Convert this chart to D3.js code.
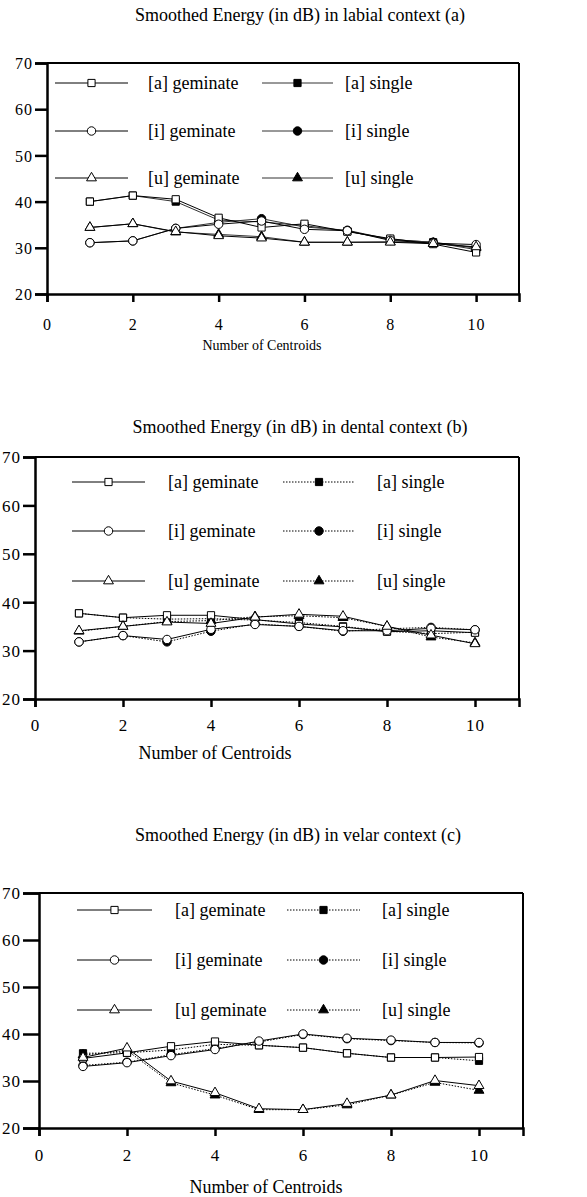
<!DOCTYPE html>
<html>
<head>
<meta charset="utf-8">
<script src="https://cdn.jsdelivr.net/npm/d3@7"></script>
<style>
  html, body { margin: 0; padding: 0; background: #fff; }
  svg { display: block; }
  text { font-family: "Liberation Serif", "Times New Roman", serif; fill: #000; }
</style>
</head>
<body>
<svg id="chart" width="587" height="1197"></svg>
<script>
// ---------------- data ----------------
const centroids = [1, 2, 3, 4, 5, 6, 7, 8, 9, 10];
const xTickValues = [0, 2, 4, 6, 8, 10];
const yTickValues = [20, 30, 40, 50, 60, 70];
const xAxisLabel = "Number of Centroids";
const panelTitles = [
  "Smoothed Energy (in dB) in labial context (a)",
  "Smoothed Energy (in dB) in dental context (b)",
  "Smoothed Energy (in dB) in velar context (c)"
];
const seriesNames = ["[a] geminate", "[a] single", "[i] geminate", "[i] single", "[u] geminate", "[u] single"];

// labial (a)
const labialAGem = [40.0, 41.3, 40.5, 36.5, 34.4, 35.2, 33.5, 32.0, 30.8, 29.0];
const labialASin = [40.0, 41.3, 40.0, 36.0, 35.6, 34.8, 33.6, 31.8, 31.2, 29.6];
const labialIGem = [31.1, 31.5, 34.2, 35.1, 35.8, 34.0, 33.7, 31.6, 31.0, 30.7];
const labialISin = [31.1, 31.5, 34.2, 35.5, 36.3, 34.5, 33.8, 31.8, 31.2, 30.0];
const labialUGem = [34.4, 35.2, 33.5, 32.6, 32.1, 31.2, 31.2, 31.2, 30.9, 30.2];
const labialUSin = [34.4, 35.2, 33.4, 32.9, 32.4, 31.2, 31.2, 31.3, 31.0, 30.0];

// dental (b)
const dentalAGem = [37.7, 36.8, 37.3, 37.3, 36.4, 35.5, 34.9, 33.9, 34.1, 33.7];
const dentalASin = [37.7, 36.8, 36.5, 36.6, 36.3, 35.8, 35.0, 34.0, 33.5, 33.8];
const dentalIGem = [31.8, 33.1, 32.3, 34.4, 35.4, 35.0, 34.1, 34.1, 34.6, 34.3];
const dentalISin = [31.8, 33.1, 31.8, 34.0, 35.5, 35.0, 34.0, 34.5, 34.8, 34.3];
const dentalUGem = [34.1, 35.0, 35.9, 35.6, 36.9, 37.5, 37.1, 35.0, 33.2, 31.4];
const dentalUSin = [34.0, 35.0, 36.0, 36.2, 37.0, 37.2, 36.8, 35.0, 32.8, 31.6];

// velar (c)
const velarAGem = [34.8, 36.0, 37.4, 38.4, 37.6, 37.1, 35.9, 35.0, 35.0, 35.1];
const velarASin = [35.9, 36.0, 36.6, 37.8, 37.6, 37.1, 35.9, 35.0, 35.0, 34.3];
const velarIGem = [33.1, 33.9, 35.4, 36.7, 38.5, 40.0, 39.1, 38.7, 38.2, 38.2];
const velarISin = [33.3, 34.0, 35.6, 36.9, 38.3, 39.9, 39.0, 38.6, 38.2, 38.1];
const velarUGem = [35.0, 37.0, 30.0, 27.5, 24.1, 23.9, 25.2, 27.0, 30.1, 29.0];
const velarUSin = [35.5, 36.5, 29.6, 27.0, 23.9, 23.9, 24.9, 27.0, 29.7, 28.0];

// ---------------- layout ----------------
const panels = [
  { title: panelTitles[0], series: [labialAGem, labialASin, labialIGem, labialISin, labialUGem, labialUSin],
    left: 47, right: 519, top: 63, bottom: 294, titleX: 300, titleY: 21, singleDash: null,
    yTick: 12, yPad: 2, tickFont: 16, xlabFont: 14, xlabX: 262, xlabY: 350, tickLabY: 330,
    legLine1: [55, 128], legText1: 148, legLine2: [262, 333], legText2: 345, legRows: [83, 131, 178], legFont: 18 },
  { title: panelTitles[1], series: [dentalAGem, dentalASin, dentalIGem, dentalISin, dentalUGem, dentalUSin],
    left: 35, right: 519, top: 457, bottom: 699, titleX: 300, titleY: 433, singleDash: "1.5,1.5",
    yTick: 12, yPad: 2, tickFont: 17, xlabFont: 18, xlabX: 215, xlabY: 759, tickLabY: 731,
    legLine1: [72, 145], legText1: 168, legLine2: [283, 355], legText2: 377, legRows: [482, 531, 581], legFont: 18 },
  { title: panelTitles[2], series: [velarAGem, velarASin, velarIGem, velarISin, velarUGem, velarUSin],
    left: 39, right: 523, top: 893, bottom: 1128, titleX: 298, titleY: 841, singleDash: "1.5,1.5",
    yTick: 16, yPad: 2, tickFont: 17, xlabFont: 18, xlabX: 266, xlabY: 1193, tickLabY: 1161,
    legLine1: [77, 152], legText1: 175, legLine2: [287, 360], legText2: 382, legRows: [910, 960, 1010], legFont: 18 }
];

const svg = d3.select("#chart");

const shapes = [d3.symbolSquare, d3.symbolSquare, d3.symbolCircle, d3.symbolCircle, d3.symbolTriangle, d3.symbolTriangle];
const sizes = [52, 52, 56, 56, 42, 42];

function marker(g, i, x, y) {
  const hollow = (i % 2 === 0);
  g.append("path")
    .attr("d", d3.symbol().type(shapes[i]).size(sizes[i])())
    .attr("transform", `translate(${x},${y})`)
    .attr("fill", hollow ? "#fff" : "#000")
    .attr("stroke", "#000")
    .attr("stroke-width", 1);
}

panels.forEach(p => {
  const g = svg.append("g");
  const x = d3.scaleLinear().domain([0, 11]).range([p.left, p.right]);
  const y = d3.scaleLinear().domain([20, 70]).range([p.bottom, p.top]);

  // title
  g.append("text").attr("x", p.titleX).attr("y", p.titleY)
    .attr("text-anchor", "middle").attr("font-size", 18).text(p.title);

  // frame top & right
  g.append("line").attr("x1", x(0)).attr("x2", x(11)).attr("y1", y(70)).attr("y2", y(70))
    .attr("stroke", "#000").attr("stroke-width", 2);
  g.append("line").attr("x1", x(11)).attr("x2", x(11)).attr("y1", y(70)).attr("y2", y(20))
    .attr("stroke", "#000").attr("stroke-width", 2);

  // axes
  const yAxis = d3.axisLeft(y).tickValues(yTickValues).tickSize(p.yTick).tickPadding(p.yPad).tickFormat(d3.format("d"));
  const ya = g.append("g").attr("transform", `translate(${p.left},0)`).call(yAxis);
  const xAxis = d3.axisBottom(x).tickValues(xTickValues).tickSize(8).tickPadding(6).tickFormat(d3.format("d"));
  const xa = g.append("g").attr("transform", `translate(0,${p.bottom})`).call(xAxis);
  [ya, xa].forEach(a => {
    a.select(".domain").attr("stroke", "#000").attr("stroke-width", 2.5);
    a.selectAll(".tick line").attr("stroke", "#000").attr("stroke-width", 2.5);
    a.selectAll(".tick text").attr("font-family", "Liberation Serif, serif")
      .attr("font-size", p.tickFont).attr("fill", "#000").attr("letter-spacing", 1);
  });
  xa.selectAll(".tick text").attr("y", null).attr("dy", null)
    .attr("y", p.tickLabY - p.bottom);
  ya.selectAll(".tick text").attr("dy", "0.35em");

  // x label
  g.append("text").attr("x", p.xlabX).attr("y", p.xlabY).attr("text-anchor", "middle")
    .attr("font-size", p.xlabFont).text(xAxisLabel);

  // series lines (single first, then geminate on top)
  const order = [1, 3, 5, 0, 2, 4];
  const line = d3.line().x((d, j) => x(centroids[j])).y(d => y(d));
  order.forEach(i => {
    const single = (i % 2 === 1);
    g.append("path").datum(p.series[i])
      .attr("d", line).attr("fill", "none")
      .attr("stroke", single && !p.singleDash ? "#333" : "#000")
      .attr("stroke-width", 1)
      .attr("stroke-dasharray", single ? p.singleDash : null);
  });
  order.forEach(i => {
    p.series[i].forEach((v, j) => marker(g, i, x(centroids[j]), y(v)));
  });

  // legend
  seriesNames.forEach((name, i) => {
    const row = Math.floor(i / 2);
    const col = i % 2;
    const ly = p.legRows[row];
    const seg = col === 0 ? p.legLine1 : p.legLine2;
    const tx = col === 0 ? p.legText1 : p.legText2;
    const single = (i % 2 === 1);
    g.append("line").attr("x1", seg[0]).attr("x2", seg[1]).attr("y1", ly).attr("y2", ly)
      .attr("stroke", single && !p.singleDash ? "#333" : "#000").attr("stroke-width", 1)
      .attr("stroke-dasharray", single ? p.singleDash : null);
    marker(g, i, (seg[0] + seg[1]) / 2, ly);
    g.append("text").attr("x", tx).attr("y", ly).attr("dy", "0.32em")
      .attr("font-size", p.legFont).text(name);
  });
});
</script>
</body>
</html>
